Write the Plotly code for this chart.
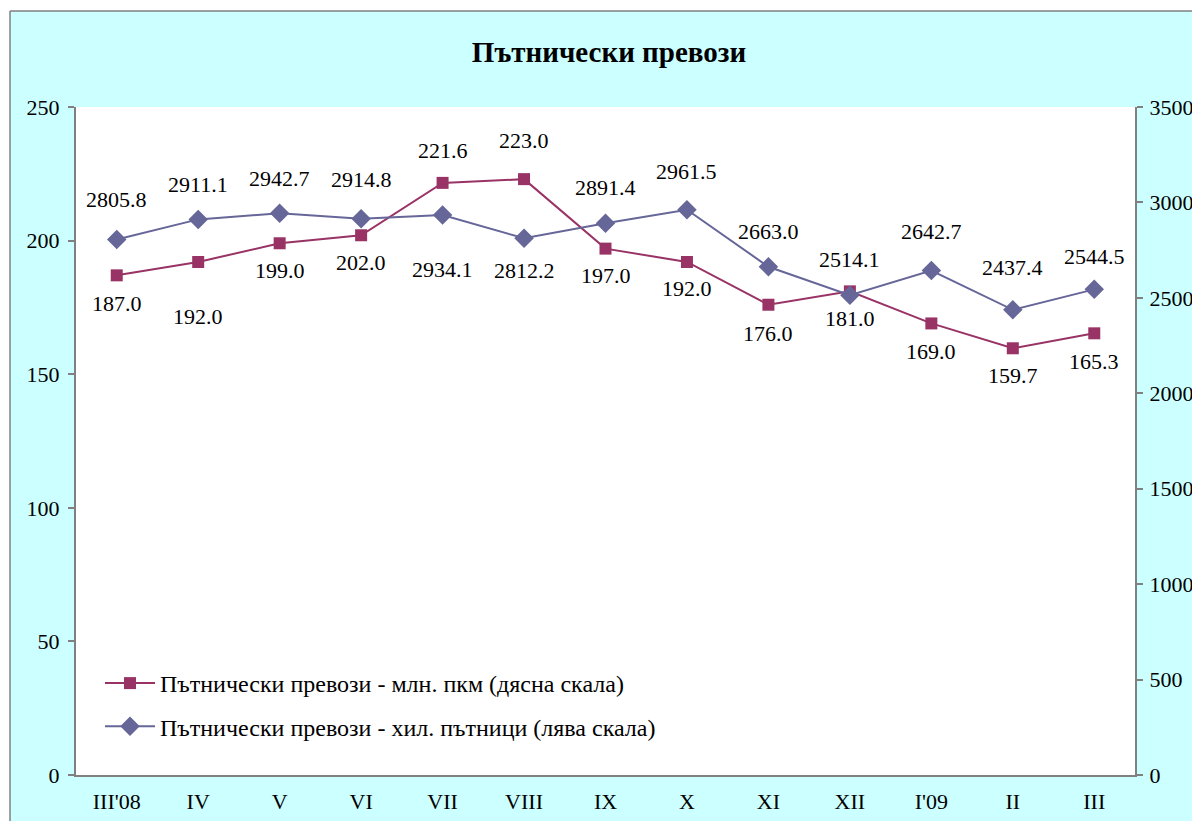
import plotly.graph_objects as go

categories = ["III'08", "IV", "V", "VI", "VII", "VIII", "IX", "X", "XI", "XII", "I'09", "II", "III"]
pkm_values = [187.0, 192.0, 199.0, 202.0, 221.6, 223.0, 197.0, 192.0, 176.0, 181.0, 169.0, 159.7, 165.3]
passenger_values = [2805.8, 2911.1, 2942.7, 2914.8, 2934.1, 2812.2, 2891.4, 2961.5, 2663.0, 2514.1, 2642.7, 2437.4, 2544.5]
left_ticks = [0, 50, 100, 150, 200, 250]
right_ticks = [0, 500, 1000, 1500, 2000, 2500, 3000, 3500]

name_pkm = "Пътнически превози - млн. пкм (дясна скала)"
name_pass = "Пътнически превози - хил. пътници (лява скала)"
title = "Пътнически превози"

# label vertical offsets in pixels (style only)
pkm_shift = [-28, -55, -27, -27, 32, 39, -27, -27, -29, -27, -28, -27, -28]
pass_shift = [40, 35, 35, 39, -54, -32, 36, 38, 35, 36, 39, 42, 33]

FONT = "Liberation Serif"
MAROON = "#993366"
BLUE = "#666699"
CYAN = "#CCFFFF"
GREY = "#808080"

# figure is placed at (8, 8) in the page by the default body margin
OFF = 8
W, H = 1200 - OFF, 821 - OFF
ML, MT = 76 - OFF, 107 - OFF
MR = W - (1135 - OFF)
MB = H - (775 - OFF)
PW = W - ML - MR
PH = H - MT - MB

fig = go.Figure()
fig.add_trace(go.Scatter(
    x=categories, y=pkm_values, name=name_pkm, mode="lines+markers",
    line=dict(color=MAROON, width=2),
    marker=dict(symbol="square", size=12, color=MAROON),
    legendgroup="a", yaxis="y"))
fig.add_trace(go.Scatter(
    x=categories, y=passenger_values, name=name_pass, mode="lines+markers",
    line=dict(color=BLUE, width=2),
    marker=dict(symbol="diamond", size=15, color=BLUE),
    legendgroup="b", yaxis="y2"))

annotations = []
for c, v, s in zip(categories, pkm_values, pkm_shift):
    annotations.append(dict(x=c, y=v, xref="x", yref="y", text=f"{v:.1f}",
                            showarrow=False, yshift=s,
                            font=dict(family=FONT, size=22, color="black")))
for c, v, s in zip(categories, passenger_values, pass_shift):
    annotations.append(dict(x=c, y=v, xref="x", yref="y2", text=f"{v:.1f}",
                            showarrow=False, yshift=s,
                            font=dict(family=FONT, size=22, color="black")))


def px_to_paper_x(px):
    return (px - OFF - ML) / PW


def px_to_paper_y(py):
    return (H - MB - (py - OFF)) / PH


bx = px_to_paper_x(10)
by = px_to_paper_y(11)
shapes = [
    dict(type="rect", xref="paper", yref="paper", x0=-1, x1=2, y0=by, y1=2,
         fillcolor="white", line=dict(width=0), layer="below"),
    dict(type="rect", xref="paper", yref="paper", x0=-1, x1=bx, y0=-1, y1=2,
         fillcolor="white", line=dict(width=0), layer="below"),
    dict(type="line", xref="paper", yref="paper", x0=bx, x1=bx, y0=-1, y1=by,
         line=dict(color=GREY, width=1.5)),
    dict(type="line", xref="paper", yref="paper", x0=bx, x1=2, y0=by, y1=by,
         line=dict(color=GREY, width=1.5)),
]

axis_common = dict(
    showgrid=False, zeroline=False, showline=True, linecolor=GREY, linewidth=2,
    ticks="outside", ticklen=6, tickcolor=GREY, tickwidth=1.5, automargin=False,
    tickfont=dict(family=FONT, size=22, color="black"),
)

fig.update_layout(
    width=W, height=H,
    margin=dict(l=ML, r=MR, t=MT, b=MB, autoexpand=False),
    paper_bgcolor=CYAN, plot_bgcolor="white",
    title=dict(text=f"<b>{title}</b>", x=(609 - OFF) / W, xanchor="center",
               y=1 - (52 - OFF) / H, yanchor="middle",
               font=dict(family=FONT, size=29, color="black")),
    xaxis=dict(type="category", range=[-0.5, len(categories) - 0.5],
               showgrid=False, zeroline=False, showline=True, linecolor=GREY, linewidth=2,
               ticks="", ticklabelstandoff=6, automargin=False,
               tickfont=dict(family=FONT, size=22, color="black")),
    yaxis=dict(range=[0, 250], tickvals=left_ticks, ticklabelstandoff=4, **axis_common),
    yaxis2=dict(range=[0, 3500], tickvals=right_ticks, overlaying="y", side="right",
                ticklabelstandoff=2, **axis_common),
    legend=dict(x=px_to_paper_x(100), y=px_to_paper_y(661), xanchor="left", yanchor="top",
                bgcolor="rgba(0,0,0,0)", font=dict(family=FONT, size=24, color="black"),
                tracegroupgap=9, itemwidth=50, traceorder="grouped"),
    annotations=annotations,
    shapes=shapes,
    showlegend=True,
)

fig.write_html("out.html")
